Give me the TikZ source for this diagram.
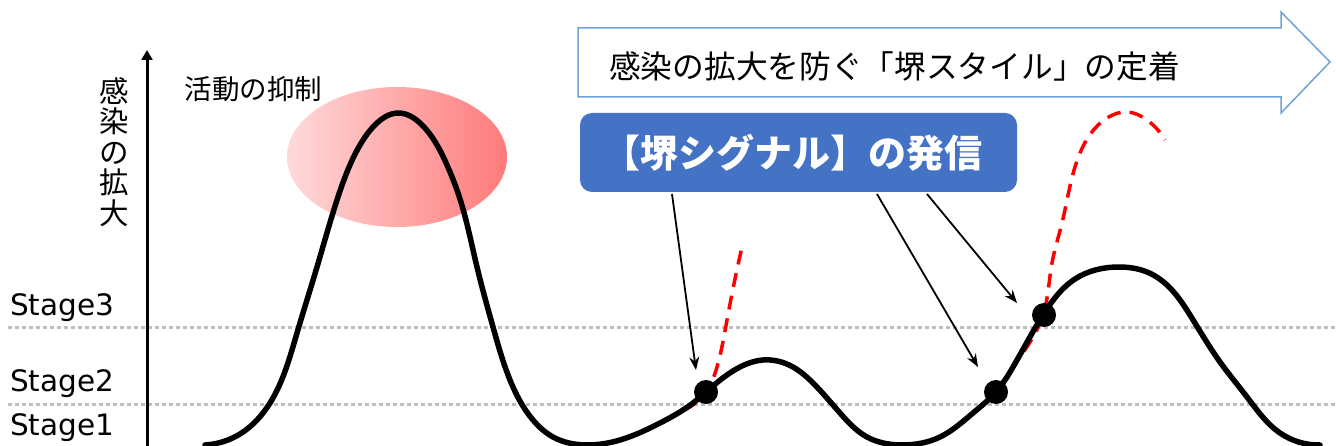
\documentclass[tikz,border=0pt]{standalone}
\usepackage{fontspec}
\setmainfont{DejaVu Sans}
\newfontfamily\jp{Noto Sans CJK JP}
\usetikzlibrary{shapes.geometric,arrows.meta,hobby}
\definecolor{sigblue}{HTML}{4472C4}
\definecolor{bannerline}{HTML}{6FA3D8}
\definecolor{gridgray}{HTML}{BFBFBF}
\definecolor{pinkL}{RGB}{255,218,218}
\definecolor{pinkR}{RGB}{255,122,122}
\definecolor{fcred}{RGB}{255,0,0}
\begin{document}
\begin{tikzpicture}[x=1pt,y=-1pt,
  stagelabel/.style={anchor=base west, inner sep=0pt, font=\fontsize{29.5}{32}\selectfont},
  gridline/.style={gridgray, line width=3pt, dash pattern=on 3.5pt off 3.5pt},
  curve/.style={black, line width=5.5pt, line join=round, line cap=round},
  forecast/.style={fcred, line width=3.5pt, dash pattern=on 14pt off 9pt},
  dot/.style={circle, fill=black, minimum size=24pt, inner sep=0pt},
  pointer/.style={black, line width=1.8pt, -{Stealth[length=13pt,width=10pt]}},
  axisline/.style={black, line width=3pt, -{Triangle[length=10pt,width=11pt]}},
  banner/.style={draw=bannerline, line width=1.5pt, fill=white, line join=miter},
  signal/.style={fill=sigblue, rounded corners=12pt, minimum width=437pt, minimum height=79pt, inner sep=0pt,
    text=white, font=\jp\bfseries\fontsize{38}{40}\selectfont},
  blob/.style={ellipse, minimum width=220pt, minimum height=140pt, left color=pinkL, right color=pinkR, draw=none}
]
\useasboundingbox (0,0) rectangle (1336,446);

% grid lines
\coordinate (g3a) at (8,327.5);
\coordinate (g3b) at (1336,327.5);
\coordinate (g2a) at (8,404);
\coordinate (g2b) at (1336,404);
\draw[gridline] (g3a) -- (g3b);
\draw[gridline] (g2a) -- (g2b);

% stage labels
\node[stagelabel] (st3) at (10,316) {Stage3};
\node[stagelabel] (st2) at (10,391.5) {Stage2};
\node[stagelabel] (st1) at (10,435) {Stage1};

% axis
\coordinate (axb) at (147,446);
\coordinate (axt) at (147,50);
\draw[axisline] (axb) -- (axt);
\node[align=center, inner sep=0pt, font=\jp\fontsize{29.5}{30.5}\selectfont] (ylabel) at (114,152) {感\\染\\の\\拡\\大};

% suppression ellipse
\node[blob] (blob) at (397,157) {};
\node[font=\jp\fontsize{27.5}{29}\selectfont, inner sep=0pt] (suppress) at (253.5,89) {活動の抑制};

% banner arrow
\draw[banner] (578,28) -- (1281,28) -- (1281,12) -- (1330,62) -- (1281,113) -- (1281,97) -- (578,97) -- cycle;
\node[font=\jp\fontsize{31.7}{33}\selectfont, inner sep=0pt] (bannertext) at (894.5,66) {感染の拡大を防ぐ「堺スタイル」の定着};

% signal box
\node[signal] (signal) at (798.5,152.5) {\hspace*{-12pt}【堺シグナル】の発信};

% forecast (red dashed)
\draw[forecast, use Hobby shortcut] (684,410) .. (706,392) .. (717,367) .. (727,320) .. (742,247);
\draw[forecast, use Hobby shortcut] (998,389) .. (1013,367) .. (1043,315) .. (1052,263) .. (1062,223) .. (1080,153) .. (1107,118) .. (1127,112) .. (1147,120) .. (1165,140);

% main curve
\draw[curve, use Hobby shortcut] (205,445) .. (240,434) .. (270,403) .. (297,333) .. (317,267) .. (337,200) .. (347,172) .. (360,145) .. (377,123) .. (398,113)
 .. (420,123) .. (437,145) .. (450,172) .. (457,190) .. (477,267) .. (493,327) .. (510,380) .. (533,420) .. (553,437) .. (587,445)
 .. (620,440) .. (660,423) .. (693,403) .. (706,392) .. (740,367) .. (763,360) .. (793,367) .. (813,383) .. (840,413)
 .. (867,437) .. (903,445) .. (940,437) .. (973,413) .. (996,392) .. (1013,367) .. (1043,315) .. (1075,279)
 .. (1120,267) .. (1147,272) .. (1167,285) .. (1190,315) .. (1220,362) .. (1247,397) .. (1280,433) .. (1320,445);

% signal dots
\node[dot] (d1) at (706,392) {};
\node[dot] (d2) at (996,392) {};
\node[dot] (d3) at (1044,315) {};

% pointers
\coordinate (s1) at (672,194);
\coordinate (t1) at (696,370);
\coordinate (s2) at (877,194);
\coordinate (t2) at (978,367);
\coordinate (s3) at (927,194);
\coordinate (t3) at (1017,303);
\draw[pointer] (s1) -- (t1);
\draw[pointer] (s2) -- (t2);
\draw[pointer] (s3) -- (t3);
\end{tikzpicture}
\end{document}
